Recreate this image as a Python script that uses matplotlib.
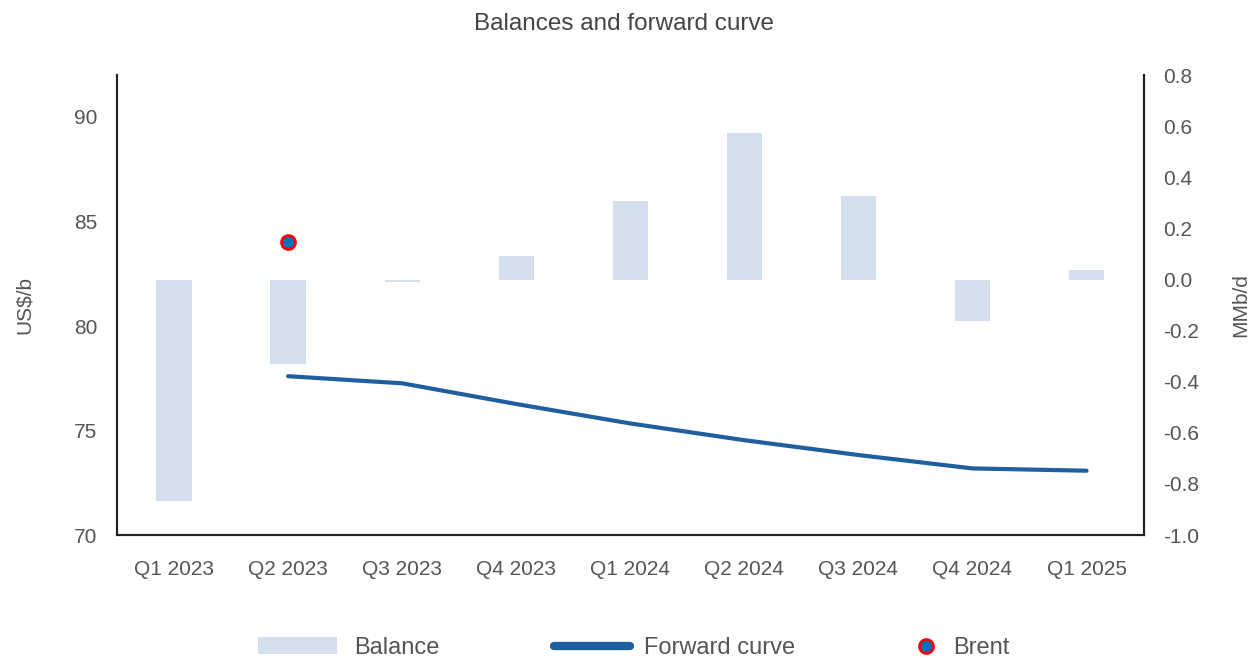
import matplotlib
matplotlib.use("Agg")
import matplotlib.pyplot as plt
import numpy as np
from matplotlib.patches import Patch
from matplotlib.lines import Line2D

plt.rcParams['font.family'] = ['Liberation Sans', 'DejaVu Sans']

quarters = ["Q1 2023", "Q2 2023", "Q3 2023", "Q4 2023", "Q1 2024",
            "Q2 2024", "Q3 2024", "Q4 2024", "Q1 2025"]
balance = [-0.865, -0.329, -0.01, 0.094, 0.306, 0.574, 0.326, -0.163, 0.038]
forward_quarters = quarters[1:]
forward_curve = [77.60, 77.26, 76.27, 75.34, 74.54, 73.83, 73.19, 73.08]
brent_quarter = "Q2 2023"
brent_price = 84.0

left_ticks = [70, 75, 80, 85, 90]
right_ticks = [-1.0, -0.8, -0.6, -0.4, -0.2, 0.0, 0.2, 0.4, 0.6, 0.8]

text_color = "#555555"
bar_color = "#d3dfec"
line_color = "#1f5f9f"

fig = plt.figure(figsize=(12.48, 6.59), dpi=100)
ax = fig.add_axes([0.0938, 0.188, 0.8225, 0.698])
ax2 = ax.twinx()

x = np.arange(len(quarters))
ax2.bar(x, balance, width=0.31, color=bar_color, zorder=1)

fx = [quarters.index(q) for q in forward_quarters]
ax.plot(fx, forward_curve, color=line_color, lw=3, solid_capstyle="round", zorder=3)
ax.plot([quarters.index(brent_quarter)], [brent_price], "o", ms=10,
        mfc="#0070c0", mec="#ff0000", mew=2, zorder=4)

# left axis sits above the bars
ax.set_zorder(ax2.get_zorder() + 1)
ax.patch.set_visible(False)

ax.set_xlim(-0.5, len(quarters) - 0.5)
ax.set_ylim(70, 92)
ax.set_yticks(left_ticks)
ax2.set_ylim(-1.0, 0.8)
ax2.set_yticks(right_ticks)
ax2.set_yticklabels([f"{v:.1f}" for v in right_ticks])
ax.set_xticks(x)
ax.set_xticklabels(quarters)

for a in (ax, ax2):
    a.tick_params(length=0, labelsize=15, colors=text_color)
    a.spines['top'].set_visible(False)
    for s in ('left', 'right', 'bottom'):
        a.spines[s].set_color("#222222")
        a.spines[s].set_linewidth(1.5)
ax.tick_params(axis='x', pad=18)
ax.tick_params(axis='y', pad=14)
ax2.tick_params(axis='y', pad=14)

ax.set_ylabel("US$/b", fontsize=15, color=text_color)
ax2.set_ylabel("MMb/d", fontsize=15, color=text_color)
ax.yaxis.set_label_coords(-0.081, 0.5)
ax2.yaxis.set_label_coords(1.085, 0.5)
ax2.yaxis.label.set_rotation(90)

fig.text(0.5, 0.963, "Balances and forward curve", ha="center", va="center",
         fontsize=17.5, color="#444444")

# legend entries laid out along the bottom
h_bal = Patch(facecolor=bar_color, edgecolor="none")
h_fwd = Line2D([], [], color=line_color, lw=6, solid_capstyle="round")
h_brent = Line2D([], [], ls="none", marker="o", ms=10, mfc="#0070c0",
                 mec="#ff0000", mew=2)
entries = [(h_bal, "Balance", 258, 3.35, 0.72),
           (h_fwd, "Forward curve", 554, 3.2, 0.6),
           (h_brent, "Brent", 915, 0.93, 0.68)]
for h, lab, px, hl, tp in entries:
    fig.legend(handles=[h], labels=[lab], loc="center left",
               bbox_to_anchor=(px / 1248, 1 - 648 / 659), frameon=False,
               fontsize=17, labelcolor=text_color, handlelength=hl,
               handleheight=0.75, handletextpad=tp, borderpad=0,
               borderaxespad=0)

fig.savefig("out.png", dpi=100)
